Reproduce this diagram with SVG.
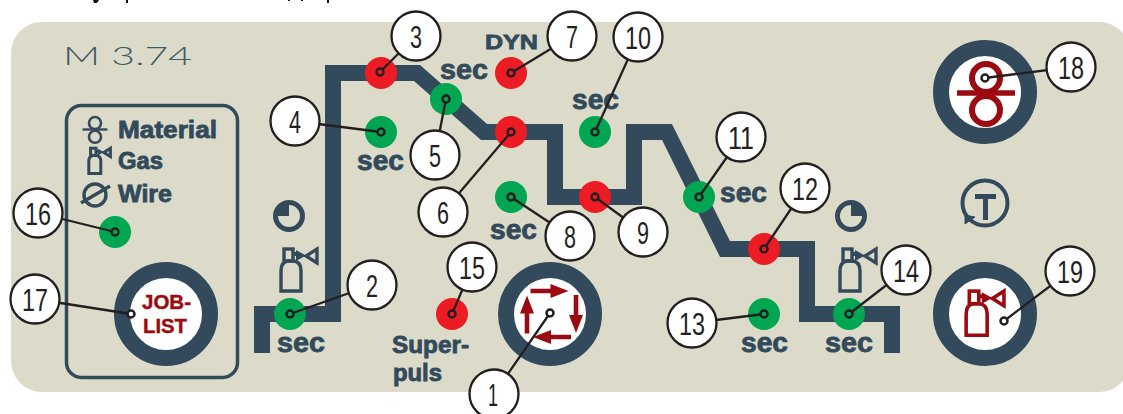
<svg xmlns="http://www.w3.org/2000/svg" xmlns:xlink="http://www.w3.org/1999/xlink" width="1123" height="414" viewBox="0 0 1123 414">
<style>
.t{font-family:"Liberation Sans",Arial,sans-serif;font-weight:bold;fill:#324a5b;stroke:#324a5b;stroke-width:.8}
.s{font-size:27px}
.l{font-size:23.500px}
.j{font-family:"Liberation Sans",Arial,sans-serif;font-weight:bold;fill:#9b0a10;stroke:#9b0a10;stroke-width:.4;font-size:19.500px}
.g{fill:#00a651}.r{fill:#ed1c24}.w{fill:#fff}
.c{fill:#fff;stroke:#231f20;stroke-width:2.3}
.n{font-family:"Liberation Sans",Arial,sans-serif;font-size:32px;fill:#231f20}
.p{fill:none;stroke:#231f20;stroke-width:2.3;stroke-linecap:round;stroke-linejoin:round}
.pin{stroke:#231f20;stroke-width:2.500}
.ring{fill:#fff;stroke:#324a5b;stroke-width:16}
.gb{fill:none;stroke:currentColor;stroke-width:var(--w,3.400)}
</style>
<defs>
<g id="gas" color="inherit">
<path class="gb" d="M3 44V24Q3 15 10 14H16Q23 15 23 24V44Z"/>
<rect class="gb" x="6" y="2" width="9" height="12"/>
<path d="M15 5H19V9H15Z" fill="currentColor"/>
<path d="M18 3L28 8.500 18 14Z" fill="currentColor"/>
<path class="gb" d="M39 2V16L28 9Z"/>
</g>
<g id="rolls" fill="none" stroke="currentColor">
<circle cx="0" cy="-15" r="14" stroke-width="6"/><circle cx="0" cy="17" r="14" stroke-width="6"/>
<path d="M-29 0H29" stroke-width="5.500"/>
</g>
<path id="arr" d="M-19 -2.300H1V-7L19 0 1 7V2.300H-19Z" fill="#9b0a10"/>
</defs>
<rect width="1123" height="414" fill="#fff"/>
<rect x="11" y="22" width="1119" height="370" rx="31" fill="#dcdbc9"/>
<path d="M93 0h6l-2 3h-3zM126 0h2v3h-2zM288 0h2v1h-2zM301 0h2v1h-2zM327 0h2v3h-2z" fill="#111"/>
<text x="63" y="65" textLength="129" lengthAdjust="spacingAndGlyphs" font-family="Lato,'Liberation Sans',sans-serif" font-weight="300" font-size="25" fill="#3d5a6b">M 3.74</text>
<g id="wire-path"><path d="M262 353V314H333V73H417L484 132H555V197H634V132H667L725 249H807V314H892V353" fill="none" stroke="#324a5b" stroke-width="16" stroke-linejoin="miter" stroke-miterlimit="10"/></g>
<g id="legend">
<rect x="66.500" y="105.500" width="171" height="272" rx="15" fill="none" stroke="#324a5b" stroke-width="3.500"/>
<use xlink:href="#rolls" href="#rolls" transform="translate(95,129.500) scale(.43)" style="color:#324a5b"/>
<use href="#gas" xlink:href="#gas" transform="translate(87,147) scale(.6)" style="color:#324a5b;--w:5"/>
<g fill="none" stroke="#324a5b" stroke-width="3.400"><circle cx="95" cy="195" r="11"/><path d="M81 203L110 186"/></g>
<text class="t l" x="118" y="138" textLength="99" lengthAdjust="spacingAndGlyphs">Material</text>
<text class="t l" x="118" y="169" textLength="45" lengthAdjust="spacingAndGlyphs">Gas</text>
<text class="t l" x="118" y="202" textLength="54" lengthAdjust="spacingAndGlyphs">Wire</text>
</g>
<g id="icons">
<g fill="none" stroke="#324a5b"><circle cx="289" cy="216" r="13.500" stroke-width="5"/><path d="M289 216V204A12 12 0 0 0 277 216Z" fill="#324a5b" stroke="none"/>
<circle cx="851" cy="216" r="13.500" stroke-width="5"/><path d="M851 216V204A12 12 0 0 1 863 216Z" fill="#324a5b" stroke="none"/></g>
<use href="#gas" xlink:href="#gas" transform="translate(278,247)" style="color:#324a5b"/>
<use href="#gas" xlink:href="#gas" transform="translate(837,247)" style="color:#324a5b"/>
<g fill="none" stroke="#324a5b"><circle cx="985" cy="203" r="22.500" stroke-width="4"/><path d="M965 224L975 217 965 215Z" fill="#324a5b" stroke-width="1"/>
<path d="M975 196.500H996M985.500 196V220" stroke-width="5"/></g>
</g>
<g id="knob-1"><circle class="ring" cx="550" cy="314" r="44"/>
<use href="#arr" xlink:href="#arr" transform="translate(549.500,291)"/><use href="#arr" xlink:href="#arr" transform="translate(576,314) rotate(90)"/><use href="#arr" xlink:href="#arr" transform="translate(552,337) rotate(180)"/><use href="#arr" xlink:href="#arr" transform="translate(527,314.500) rotate(-90)"/></g>
<g id="knob-17"><circle class="ring" cx="166" cy="314" r="44"/><text class="j" x="142" y="309" textLength="49" lengthAdjust="spacingAndGlyphs">JOB-</text><text class="j" x="143" y="333" textLength="44" lengthAdjust="spacingAndGlyphs">LIST</text></g>
<g id="knob-18"><circle class="ring" cx="985" cy="92" r="44"/><use href="#rolls" xlink:href="#rolls" transform="translate(986,93)" style="color:#9b0a10"/></g>
<g id="knob-19"><circle class="ring" cx="985" cy="314" r="44"/><use href="#gas" xlink:href="#gas" transform="translate(963,289) scale(1.05)" style="color:#9b0a10"/></g>
<g id="labels">
<text class="t s" x="277" y="352" textLength="48" lengthAdjust="spacingAndGlyphs">sec</text>
<text class="t s" x="440" y="79" textLength="48" lengthAdjust="spacingAndGlyphs">sec</text>
<text class="t s" x="357" y="170" textLength="47" lengthAdjust="spacingAndGlyphs">sec</text>
<text class="t s" x="572" y="109" textLength="47" lengthAdjust="spacingAndGlyphs">sec</text>
<text class="t s" x="490" y="239" textLength="47" lengthAdjust="spacingAndGlyphs">sec</text>
<text class="t s" x="720" y="202" textLength="47" lengthAdjust="spacingAndGlyphs">sec</text>
<text class="t s" x="741" y="352" textLength="47" lengthAdjust="spacingAndGlyphs">sec</text>
<text class="t s" x="825" y="352" textLength="48" lengthAdjust="spacingAndGlyphs">sec</text>
<text class="t" x="485" y="49" font-size="20.500" textLength="53" lengthAdjust="spacingAndGlyphs">DYN</text>
<text class="t" x="392" y="353" font-size="23" textLength="77" lengthAdjust="spacingAndGlyphs">Super-</text>
<text class="t" x="393" y="381" font-size="23" textLength="49" lengthAdjust="spacingAndGlyphs">puls</text>
</g>
<g id="led-2"><circle class="g" cx="290" cy="314" r="16"/></g>
<g id="led-3"><circle class="r" cx="381" cy="73" r="16"/></g>
<g id="led-4"><circle class="g" cx="381" cy="132" r="16"/></g>
<g id="led-5"><circle class="g" cx="446" cy="99" r="16"/></g>
<g id="led-6"><circle class="r" cx="511" cy="132" r="16"/></g>
<g id="led-7"><circle class="r" cx="511" cy="73" r="16"/></g>
<g id="led-8"><circle class="g" cx="511" cy="197" r="16"/></g>
<g id="led-9"><circle class="r" cx="595" cy="197" r="16"/></g>
<g id="led-10"><circle class="g" cx="595" cy="132" r="16"/></g>
<g id="led-11"><circle class="g" cx="699" cy="197" r="16"/></g>
<g id="led-12"><circle class="r" cx="764" cy="249" r="16"/></g>
<g id="led-13"><circle class="g" cx="764" cy="314" r="16"/></g>
<g id="led-14"><circle class="g" cx="849" cy="314" r="16"/></g>
<g id="led-15"><circle class="r" cx="452" cy="314" r="16"/></g>
<g id="led-16"><circle class="g" cx="115" cy="232" r="16"/></g>
<g id="connectors">
<path class="p" d="M494 394L550 313M372 285L290 314M416 36L380 72M295 121L381 132M435 155L446 99M443 212L511 132M572 36L511 73M570 236L511 197M643 232L595 197M638 37L595 132M741 137L699 197M805 188L764 249M692 323L764 314M906 270L849 314M472 267L452 314M38 213L115 232M35 299L131 314M1071 67L985 78M1070 271L1004 321"/>
</g>
<g id="pins">
<circle class="pin g" cx="290" cy="314" r="3.500"/><circle class="pin r" cx="380" cy="72" r="3.500"/><circle class="pin g" cx="381" cy="132" r="3.500"/><circle class="pin g" cx="446" cy="99" r="3.500"/><circle class="pin r" cx="511" cy="132" r="3.500"/><circle class="pin r" cx="511" cy="73" r="3.500"/><circle class="pin g" cx="511" cy="197" r="3.500"/><circle class="pin r" cx="595" cy="197" r="3.500"/><circle class="pin g" cx="595" cy="132" r="3.500"/><circle class="pin g" cx="699" cy="197" r="3.500"/><circle class="pin r" cx="764" cy="249" r="3.500"/><circle class="pin g" cx="764" cy="314" r="3.500"/><circle class="pin g" cx="849" cy="314" r="3.500"/><circle class="pin r" cx="452" cy="314" r="3.500"/><circle class="pin g" cx="115" cy="232" r="3.500"/>
<circle class="pin w" cx="550" cy="313" r="3.500"/><circle class="pin w" cx="131" cy="314" r="3.500"/><circle class="pin w" cx="985" cy="78" r="3.500"/><circle class="pin w" cx="1004" cy="321" r="3.500"/>
</g>
<g id="callout-1"><circle class="c" cx="494" cy="394" r="24.500"/><text class="n" x="488" y="406" textLength="10" lengthAdjust="spacingAndGlyphs">1</text></g>
<g id="callout-2"><circle class="c" cx="372" cy="285" r="24.500"/><text class="n" x="366" y="297" textLength="12" lengthAdjust="spacingAndGlyphs">2</text></g>
<g id="callout-3"><circle class="c" cx="416" cy="36" r="24.500"/><text class="n" x="410" y="48" textLength="12" lengthAdjust="spacingAndGlyphs">3</text></g>
<g id="callout-4"><circle class="c" cx="295" cy="121" r="24.500"/><text class="n" x="289" y="133" textLength="12" lengthAdjust="spacingAndGlyphs">4</text></g>
<g id="callout-5"><circle class="c" cx="435" cy="155" r="24.500"/><text class="n" x="429" y="167" textLength="12" lengthAdjust="spacingAndGlyphs">5</text></g>
<g id="callout-6"><circle class="c" cx="443" cy="212" r="24.500"/><text class="n" x="437" y="224" textLength="12" lengthAdjust="spacingAndGlyphs">6</text></g>
<g id="callout-7"><circle class="c" cx="572" cy="36" r="24.500"/><text class="n" x="566" y="48" textLength="12" lengthAdjust="spacingAndGlyphs">7</text></g>
<g id="callout-8"><circle class="c" cx="570" cy="236" r="24.500"/><text class="n" x="564" y="248" textLength="12" lengthAdjust="spacingAndGlyphs">8</text></g>
<g id="callout-9"><circle class="c" cx="643" cy="232" r="24.500"/><text class="n" x="637" y="244" textLength="12" lengthAdjust="spacingAndGlyphs">9</text></g>
<g id="callout-10"><circle class="c" cx="638" cy="37" r="24.500"/><text class="n" x="625" y="49" textLength="26" lengthAdjust="spacingAndGlyphs">10</text></g>
<g id="callout-11"><circle class="c" cx="741" cy="137" r="24.500"/><text class="n" x="728" y="149" textLength="26" lengthAdjust="spacingAndGlyphs">11</text></g>
<g id="callout-12"><circle class="c" cx="805" cy="188" r="24.500"/><text class="n" x="792" y="200" textLength="26" lengthAdjust="spacingAndGlyphs">12</text></g>
<g id="callout-13"><circle class="c" cx="692" cy="323" r="24.500"/><text class="n" x="679" y="335" textLength="26" lengthAdjust="spacingAndGlyphs">13</text></g>
<g id="callout-14"><circle class="c" cx="906" cy="270" r="24.500"/><text class="n" x="893" y="282" textLength="26" lengthAdjust="spacingAndGlyphs">14</text></g>
<g id="callout-15"><circle class="c" cx="472" cy="267" r="24.500"/><text class="n" x="459" y="279" textLength="26" lengthAdjust="spacingAndGlyphs">15</text></g>
<g id="callout-16"><circle class="c" cx="38" cy="213" r="24.500"/><text class="n" x="25" y="225" textLength="26" lengthAdjust="spacingAndGlyphs">16</text></g>
<g id="callout-17"><circle class="c" cx="35" cy="299" r="24.500"/><text class="n" x="22" y="311" textLength="26" lengthAdjust="spacingAndGlyphs">17</text></g>
<g id="callout-18"><circle class="c" cx="1071" cy="67" r="24.500"/><text class="n" x="1058" y="79" textLength="26" lengthAdjust="spacingAndGlyphs">18</text></g>
<g id="callout-19"><circle class="c" cx="1070" cy="271" r="24.500"/><text class="n" x="1057" y="283" textLength="26" lengthAdjust="spacingAndGlyphs">19</text></g>
</svg>
